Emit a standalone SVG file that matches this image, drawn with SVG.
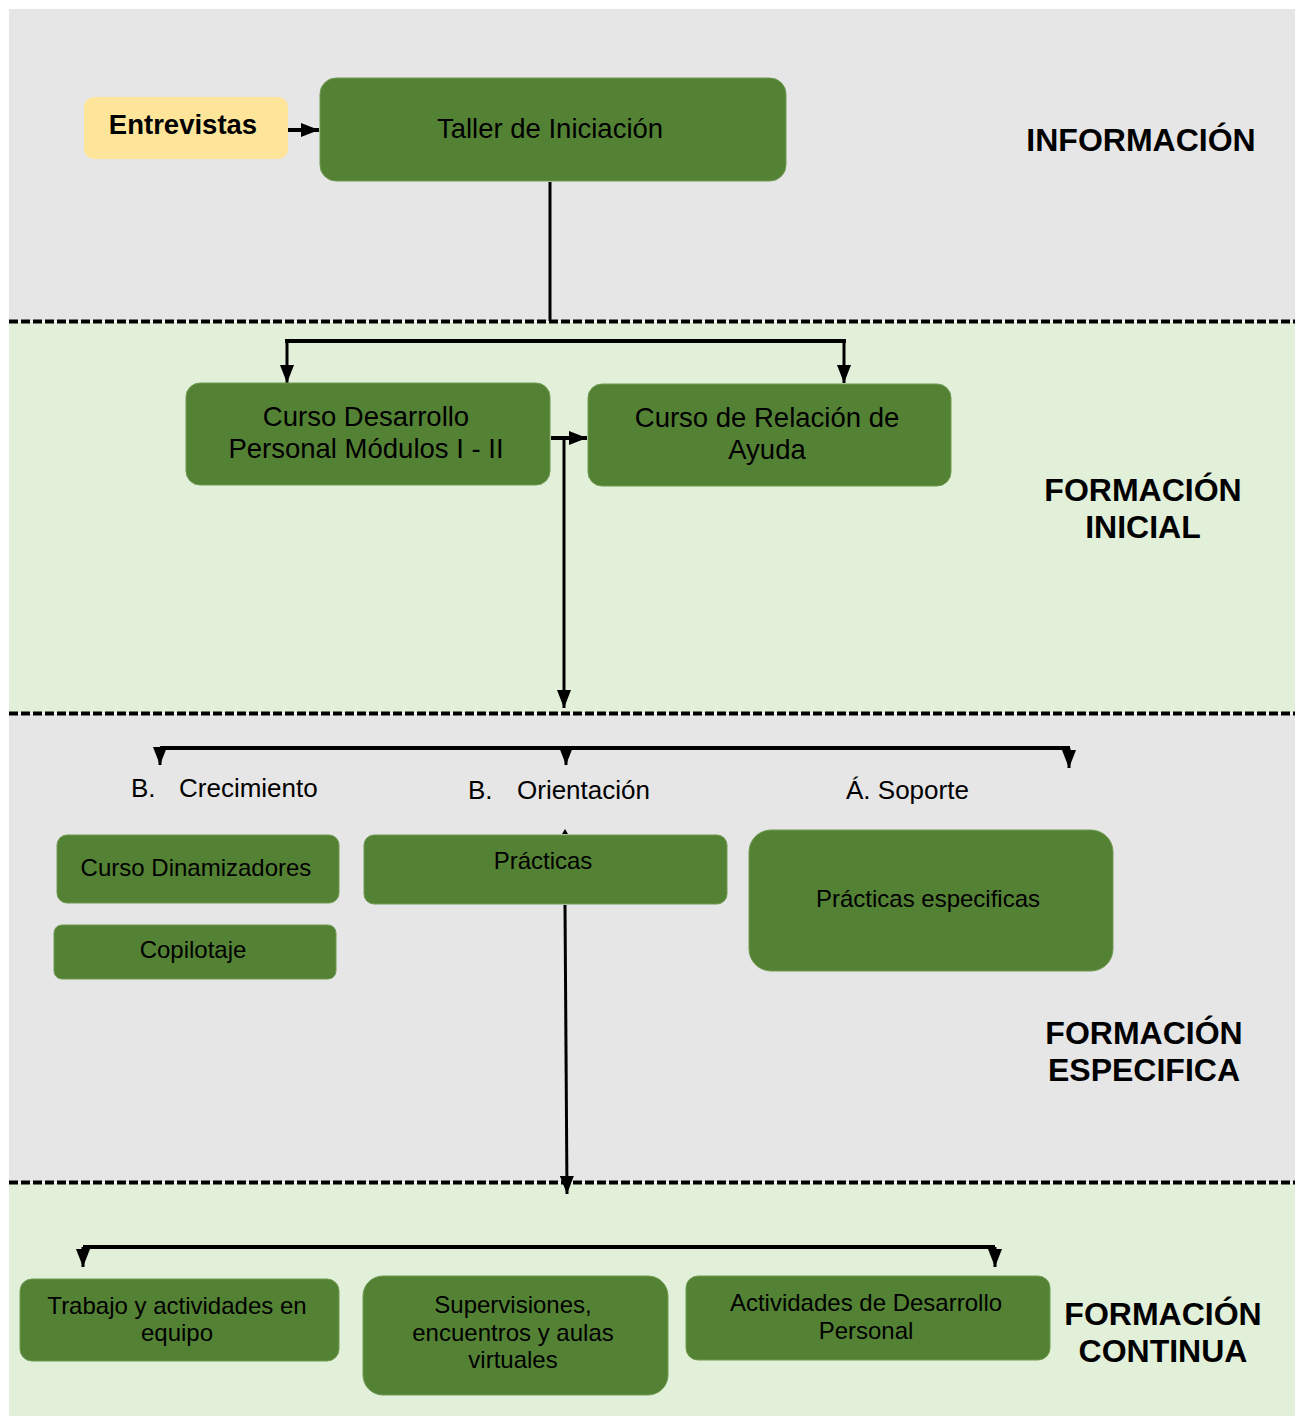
<svg xmlns="http://www.w3.org/2000/svg" width="1295" height="1416" viewBox="0 0 1295 1416">
<defs>
<style>
.band-g{fill:#e6e6e6}
.band-l{fill:#e2efd9}
.dash{stroke:#000;stroke-width:4;stroke-dasharray:9,3;fill:none}
.node{fill:#548235;stroke:#6f9a52;stroke-width:1}
.t{font-family:"Liberation Sans",Arial,sans-serif;font-size:27.5px;fill:#000;text-anchor:middle}
.ts{font-family:"Liberation Sans",Arial,sans-serif;font-size:24px;fill:#000;text-anchor:middle}
.h{font-family:"Liberation Sans",Arial,sans-serif;font-size:32px;font-weight:bold;fill:#000;text-anchor:middle}
.lab{font-family:"Liberation Sans",Arial,sans-serif;font-size:26px;fill:#000}
.c{stroke:#000;stroke-width:3;fill:none}
.cb{stroke:#000;stroke-width:4;fill:none}
</style>
<marker id="ah" viewBox="0 0 18 14" refX="18" refY="7" markerWidth="18" markerHeight="14" orient="auto" markerUnits="userSpaceOnUse">
<path d="M0,0 L18,7 L0,14 z" fill="#000"/>
</marker>
</defs>

<g id="bands">
<rect class="band-g" x="9" y="9" width="1286" height="312"/>
<rect class="band-l" x="9" y="322" width="1286" height="391"/>
<rect class="band-g" x="9" y="714" width="1286" height="468"/>
<rect class="band-l" x="9" y="1183" width="1286" height="233"/>
<line class="dash" x1="9" y1="321.5" x2="1295" y2="321.5"/>
<line class="dash" x1="9" y1="713.5" x2="1295" y2="713.5"/>
<line class="dash" x1="9" y1="1182.5" x2="1295" y2="1182.5"/>
</g>

<g id="headers">
<text class="h" x="1141" y="151">INFORMACIÓN</text>
<text class="h" x="1143" y="501">FORMACIÓN</text>
<text class="h" x="1143" y="538">INICIAL</text>
<text class="h" x="1144" y="1044">FORMACIÓN</text>
<text class="h" x="1144" y="1081">ESPECIFICA</text>
<text class="h" x="1163" y="1325">FORMACIÓN</text>
<text class="h" x="1163" y="1362">CONTINUA</text>
</g>

<g id="connectors">
<line class="cb" x1="287" y1="130" x2="319" y2="130" marker-end="url(#ah)"/>
<line class="c" x1="550" y1="182" x2="550" y2="321"/>
<line class="cb" x1="285" y1="341" x2="846" y2="341"/>
<line class="c" x1="287" y1="341" x2="287" y2="383" marker-end="url(#ah)"/>
<line class="c" x1="844" y1="341" x2="844" y2="383" marker-end="url(#ah)"/>
<line class="cb" x1="551" y1="438" x2="587" y2="438" marker-end="url(#ah)"/>
<line class="c" x1="564" y1="438" x2="564" y2="708" marker-end="url(#ah)"/>
<line class="cb" x1="160" y1="748" x2="1070" y2="748"/>
<line class="c" x1="160" y1="748" x2="160" y2="765" marker-end="url(#ah)"/>
<line class="c" x1="566" y1="748" x2="566" y2="765" marker-end="url(#ah)"/>
<line class="c" x1="1069" y1="748" x2="1069" y2="768" marker-end="url(#ah)"/>
<line class="c" x1="565" y1="905" x2="567" y2="1194" marker-end="url(#ah)"/>
<line class="cb" x1="83" y1="1247" x2="995" y2="1247"/>
<line class="c" x1="83" y1="1247" x2="83" y2="1267" marker-end="url(#ah)"/>
<line class="c" x1="995" y1="1247" x2="995" y2="1267" marker-end="url(#ah)"/>
</g>

<g id="n-entrevistas">
<rect x="84" y="97" width="204" height="62" rx="10" fill="#ffe599"/>
<text class="t" x="183" y="134" font-weight="bold" font-size="28">Entrevistas</text>
</g>
<g id="n-taller">
<rect class="node" x="320" y="78" width="466" height="103" rx="16"/>
<text class="t" x="550" y="138">Taller de Iniciación</text>
</g>
<g id="n-desarrollo">
<rect class="node" x="186" y="383" width="364" height="102" rx="14"/>
<text class="t" x="366" y="426">Curso Desarrollo</text>
<text class="t" x="366" y="458">Personal Módulos I - II</text>
</g>
<g id="n-relacion">
<rect class="node" x="588" y="384" width="363" height="102" rx="14"/>
<text class="t" x="767" y="427">Curso de Relación de</text>
<text class="t" x="767" y="459">Ayuda</text>
</g>

<g id="labels">
<text class="lab" y="797"><tspan x="131">B.</tspan><tspan x="179">Crecimiento</tspan></text>
<text class="lab" y="799"><tspan x="468">B.</tspan><tspan x="517">Orientación</tspan></text>
<text class="lab" x="846" y="799">Á. Soporte</text>
</g>

<g id="n-dinamizadores">
<rect class="node" x="57" y="835" width="282" height="68" rx="10"/>
<text class="ts" x="196" y="876">Curso Dinamizadores</text>
</g>
<g id="n-copilotaje">
<rect class="node" x="54" y="925" width="282" height="54" rx="8"/>
<text class="ts" x="193" y="958">Copilotaje</text>
</g>
<g id="n-practicas">
<rect class="node" x="364" y="835" width="363" height="69" rx="10"/>
<text class="ts" x="543" y="869">Prácticas</text>
<path d="M562,834 L565,829 L568,834 z" fill="#000"/>
</g>
<g id="n-especificas">
<rect class="node" x="749" y="830" width="364" height="141" rx="22"/>
<text class="ts" x="928" y="907">Prácticas especificas</text>
</g>

<g id="n-trabajo">
<rect class="node" x="20" y="1279" width="319" height="82" rx="12"/>
<text class="ts" x="177" y="1314">Trabajo y actividades en</text>
<text class="ts" x="177" y="1341">equipo</text>
</g>
<g id="n-supervisiones">
<rect class="node" x="363" y="1276" width="305" height="119" rx="20"/>
<text class="ts" x="513" y="1313">Supervisiones,</text>
<text class="ts" x="513" y="1341">encuentros y aulas</text>
<text class="ts" x="513" y="1368">virtuales</text>
</g>
<g id="n-actividades">
<rect class="node" x="686" y="1276" width="364" height="84" rx="12"/>
<text class="ts" x="866" y="1311">Actividades de Desarrollo</text>
<text class="ts" x="866" y="1339">Personal</text>
</g>
</svg>
